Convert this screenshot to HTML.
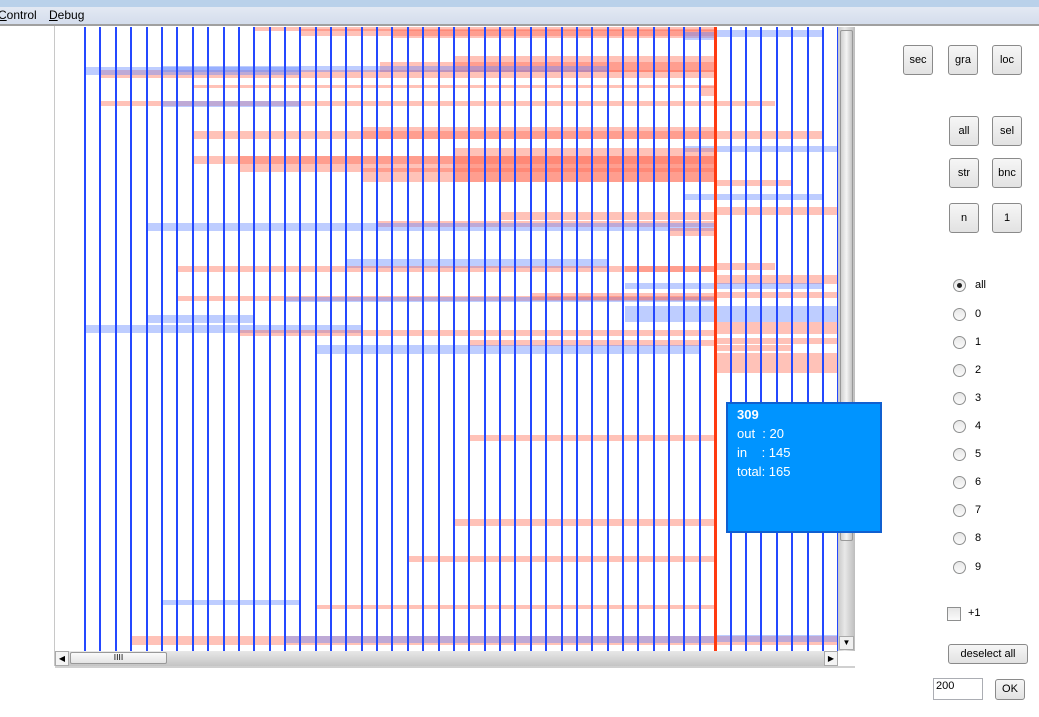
<!DOCTYPE html>
<html><head><style>
*{margin:0;padding:0;box-sizing:border-box}
body{width:1039px;height:717px;background:#fff;position:relative;overflow:hidden;font-family:"Liberation Sans",sans-serif;font-size:12px}
.abs{position:absolute}
.r{position:absolute;background:rgba(255,110,85,0.42)}
.b{position:absolute;background:rgba(100,135,255,0.42)}
.v{position:absolute;top:0;width:2px;height:624px;background:#2448ff}
.btn{position:absolute;width:30px;height:30px;border:1px solid #8a8a8a;border-radius:3px;background:linear-gradient(#f6f6f6,#e2e2e2);font-size:11px;text-align:center;line-height:28px;color:#000}
.rad{position:absolute;left:953px;width:13px;height:13px;border:1px solid #8e8f8f;border-radius:50%;background:linear-gradient(#e8e8e8,#fafafa)}
.rl{position:absolute;left:975px;font-size:11px}
</style></head><body>
<div class="abs" style="left:0;top:0;width:1039px;height:7px;background:#b9d1ea"></div>
<div class="abs" style="left:0;top:7px;width:1039px;height:18px;background:linear-gradient(#e3e9f3,#d3dcec)"></div>
<div class="abs" style="left:0;top:24px;width:1039px;height:2px;background:#a0a0a0"></div>
<div class="abs" style="left:-2px;top:8px;font-size:12px"><u>C</u>ontrol</div>
<div class="abs" style="left:49px;top:8px;font-size:12px"><u>D</u>ebug</div>
<div class="abs" style="left:54px;top:26px;width:1px;height:640px;background:#c8c8c8"></div>
<div class="abs" style="left:55px;top:27px;width:783px;height:624px;overflow:hidden;background:#fff">
<div style="position:absolute;left:-55px;top:-27px;width:900px;height:700px">
<div class="r" style="left:255px;top:27px;width:460px;height:4px"></div>
<div class="r" style="left:300px;top:29px;width:415px;height:7px"></div>
<div class="r" style="left:393px;top:30px;width:322px;height:8px"></div>
<div class="b" style="left:715px;top:30px;width:107px;height:7px"></div>
<div class="b" style="left:685px;top:32px;width:30px;height:8px"></div>
<div class="r" style="left:455px;top:56px;width:260px;height:16px"></div>
<div class="r" style="left:380px;top:62px;width:335px;height:10px"></div>
<div class="r" style="left:100px;top:70px;width:615px;height:8px"></div>
<div class="b" style="left:85px;top:67px;width:215px;height:8px"></div>
<div class="b" style="left:162px;top:66px;width:446px;height:6px"></div>
<div class="r" style="left:193px;top:85px;width:522px;height:3px"></div>
<div class="r" style="left:700px;top:86px;width:15px;height:10px"></div>
<div class="r" style="left:100px;top:101px;width:675px;height:5px"></div>
<div class="b" style="left:162px;top:101px;width:138px;height:6px"></div>
<div class="r" style="left:193px;top:131px;width:629px;height:8px"></div>
<div class="r" style="left:363px;top:127px;width:352px;height:12px"></div>
<div class="b" style="left:685px;top:146px;width:153px;height:6px"></div>
<div class="r" style="left:455px;top:148px;width:260px;height:34px"></div>
<div class="r" style="left:193px;top:156px;width:522px;height:8px"></div>
<div class="r" style="left:239px;top:156px;width:476px;height:16px"></div>
<div class="r" style="left:363px;top:168px;width:352px;height:14px"></div>
<div class="r" style="left:715px;top:180px;width:77px;height:6px"></div>
<div class="b" style="left:685px;top:194px;width:137px;height:6px"></div>
<div class="r" style="left:500px;top:212px;width:215px;height:8px"></div>
<div class="r" style="left:715px;top:207px;width:123px;height:8px"></div>
<div class="r" style="left:378px;top:221px;width:337px;height:6px"></div>
<div class="b" style="left:147px;top:223px;width:568px;height:8px"></div>
<div class="r" style="left:670px;top:228px;width:45px;height:8px"></div>
<div class="b" style="left:347px;top:259px;width:261px;height:9px"></div>
<div class="r" style="left:178px;top:266px;width:537px;height:6px"></div>
<div class="r" style="left:625px;top:266px;width:90px;height:6px"></div>
<div class="r" style="left:715px;top:263px;width:60px;height:7px"></div>
<div class="r" style="left:715px;top:275px;width:123px;height:9px"></div>
<div class="b" style="left:625px;top:283px;width:197px;height:6px"></div>
<div class="r" style="left:178px;top:296px;width:537px;height:5px"></div>
<div class="b" style="left:285px;top:297px;width:430px;height:5px"></div>
<div class="r" style="left:530px;top:293px;width:185px;height:7px"></div>
<div class="r" style="left:715px;top:292px;width:123px;height:6px"></div>
<div class="b" style="left:625px;top:306px;width:213px;height:16px"></div>
<div class="b" style="left:147px;top:315px;width:108px;height:8px"></div>
<div class="b" style="left:85px;top:325px;width:277px;height:8px"></div>
<div class="r" style="left:240px;top:330px;width:475px;height:6px"></div>
<div class="r" style="left:715px;top:322px;width:123px;height:12px"></div>
<div class="r" style="left:715px;top:338px;width:123px;height:6px"></div>
<div class="r" style="left:470px;top:340px;width:245px;height:6px"></div>
<div class="b" style="left:316px;top:345px;width:384px;height:9px"></div>
<div class="r" style="left:715px;top:345px;width:77px;height:6px"></div>
<div class="r" style="left:715px;top:353px;width:123px;height:20px"></div>
<div class="r" style="left:470px;top:435px;width:245px;height:6px"></div>
<div class="r" style="left:455px;top:519px;width:260px;height:7px"></div>
<div class="r" style="left:408px;top:556px;width:307px;height:6px"></div>
<div class="b" style="left:162px;top:600px;width:138px;height:5px"></div>
<div class="r" style="left:316px;top:605px;width:399px;height:4px"></div>
<div class="r" style="left:132px;top:636px;width:706px;height:9px"></div>
<div class="b" style="left:285px;top:636px;width:430px;height:7px"></div>
<div class="b" style="left:715px;top:635px;width:123px;height:7px"></div>
<div style="position:absolute;left:0;top:27px;width:900px;height:624px">
<div class="v" style="left:84px"></div><div class="v" style="left:99px"></div><div class="v" style="left:115px"></div><div class="v" style="left:130px"></div><div class="v" style="left:146px"></div><div class="v" style="left:161px"></div><div class="v" style="left:176px"></div><div class="v" style="left:192px"></div><div class="v" style="left:207px"></div><div class="v" style="left:223px"></div><div class="v" style="left:238px"></div><div class="v" style="left:253px"></div><div class="v" style="left:269px"></div><div class="v" style="left:284px"></div><div class="v" style="left:299px"></div><div class="v" style="left:315px"></div><div class="v" style="left:330px"></div><div class="v" style="left:345px"></div><div class="v" style="left:361px"></div><div class="v" style="left:376px"></div><div class="v" style="left:391px"></div><div class="v" style="left:407px"></div><div class="v" style="left:422px"></div><div class="v" style="left:438px"></div><div class="v" style="left:453px"></div><div class="v" style="left:468px"></div><div class="v" style="left:484px"></div><div class="v" style="left:499px"></div><div class="v" style="left:514px"></div><div class="v" style="left:530px"></div><div class="v" style="left:545px"></div><div class="v" style="left:561px"></div><div class="v" style="left:576px"></div><div class="v" style="left:591px"></div><div class="v" style="left:607px"></div><div class="v" style="left:622px"></div><div class="v" style="left:637px"></div><div class="v" style="left:653px"></div><div class="v" style="left:668px"></div><div class="v" style="left:683px"></div><div class="v" style="left:699px"></div><div class="v" style="left:730px"></div><div class="v" style="left:745px"></div><div class="v" style="left:760px"></div><div class="v" style="left:776px"></div><div class="v" style="left:791px"></div><div class="v" style="left:807px"></div><div class="v" style="left:822px"></div><div class="v" style="left:837px"></div>
<div style="position:absolute;left:714px;top:0;width:3px;height:624px;background:#ff3a10"></div>
</div>
</div></div>
<!-- vertical scrollbar -->
<div class="abs" style="left:838px;top:27px;width:17px;height:624px;background:linear-gradient(90deg,#c8c8c8,#e8e8e8 40%,#bdbdbd)"></div>
<div class="abs" style="left:840px;top:30px;width:13px;height:511px;background:linear-gradient(90deg,#d0d0d0,#f4f4f4 50%,#c4c4c4);border:1px solid #999;border-radius:2px"></div>
<div class="abs" style="left:839px;top:636px;width:15px;height:14px;background:#f0f0f0;border:1px solid #aaa;font-size:8px;text-align:center;line-height:12px">▼</div>
<!-- horizontal scrollbar -->
<div class="abs" style="left:55px;top:651px;width:783px;height:15px;background:linear-gradient(#e8e8e8,#c4c4c4)"></div>
<div class="abs" style="left:55px;top:651px;width:14px;height:15px;background:#f4f4f4;border:1px solid #aaa;font-size:8px;line-height:13px;text-align:center">◀</div>
<div class="abs" style="left:70px;top:652px;width:97px;height:12px;background:linear-gradient(#fafafa,#e4e4e4);border:1px solid #999;border-radius:2px;font-size:8px;text-align:center;line-height:10px">ⅠⅠⅠⅠ</div>
<div class="abs" style="left:824px;top:651px;width:14px;height:15px;background:#f4f4f4;border:1px solid #aaa;font-size:8px;line-height:13px;text-align:center">▶</div>
<div class="abs" style="left:838px;top:651px;width:17px;height:15px;background:#fff"></div>
<div class="abs" style="left:55px;top:666px;width:800px;height:2px;background:#d0d0d0"></div>
<!-- tooltip -->
<div class="abs" style="left:726px;top:402px;width:156px;height:131px;background:#0094ff;border:2px solid #1060d0;color:#fff;font-size:13px;line-height:19px;padding:1px 0 0 9px">
<b>309</b><br>out&nbsp; : 20<br>in&nbsp;&nbsp;&nbsp; : 145<br>total: 165</div>
<!-- buttons -->
<div class="btn" style="left:903px;top:45px">sec</div>
<div class="btn" style="left:948px;top:45px">gra</div>
<div class="btn" style="left:992px;top:45px">loc</div>
<div class="btn" style="left:949px;top:116px">all</div>
<div class="btn" style="left:992px;top:116px">sel</div>
<div class="btn" style="left:949px;top:158px">str</div>
<div class="btn" style="left:992px;top:158px">bnc</div>
<div class="btn" style="left:949px;top:203px">n</div>
<div class="btn" style="left:992px;top:203px">1</div>
<div class="rad" style="top:279px"><div style="position:absolute;left:3px;top:3px;width:5px;height:5px;border-radius:50%;background:#222"></div></div><div class="rl" style="top:279px">all</div>
<div class="rad" style="top:308px"></div><div class="rl" style="top:308px">0</div>
<div class="rad" style="top:336px"></div><div class="rl" style="top:336px">1</div>
<div class="rad" style="top:364px"></div><div class="rl" style="top:364px">2</div>
<div class="rad" style="top:392px"></div><div class="rl" style="top:392px">3</div>
<div class="rad" style="top:420px"></div><div class="rl" style="top:420px">4</div>
<div class="rad" style="top:448px"></div><div class="rl" style="top:448px">5</div>
<div class="rad" style="top:476px"></div><div class="rl" style="top:476px">6</div>
<div class="rad" style="top:504px"></div><div class="rl" style="top:504px">7</div>
<div class="rad" style="top:532px"></div><div class="rl" style="top:532px">8</div>
<div class="rad" style="top:561px"></div><div class="rl" style="top:561px">9</div>
<div class="abs" style="left:947px;top:607px;width:14px;height:14px;border:1px solid #8e8f8f;background:linear-gradient(#e6e6e6,#fafafa)"></div>
<div class="abs" style="left:968px;top:607px;font-size:11px">+1</div>
<div class="abs" style="left:948px;top:644px;width:80px;height:20px;border:1px solid #8a8a8a;border-radius:3px;background:linear-gradient(#f6f6f6,#e2e2e2);font-size:11px;text-align:center;line-height:18px">deselect all</div>
<div class="abs" style="left:933px;top:678px;width:50px;height:22px;border:1px solid #abadb3;background:#fff;font-size:11px;padding:1px 2px">200</div>
<div class="abs" style="left:995px;top:679px;width:30px;height:21px;border:1px solid #8a8a8a;border-radius:3px;background:linear-gradient(#f6f6f6,#e2e2e2);font-size:11px;text-align:center;line-height:19px">OK</div>
</body></html>
